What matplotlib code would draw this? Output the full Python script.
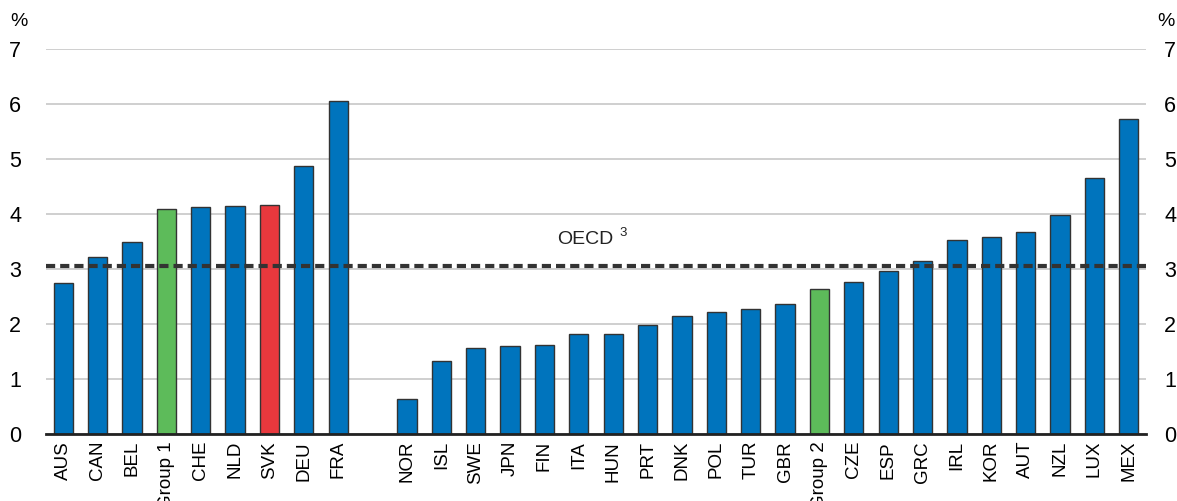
import numpy as np
import matplotlib
matplotlib.use("Agg")
import matplotlib.pyplot as plt

plt.rcParams['font.family'] = ['Liberation Sans', 'DejaVu Sans']

group1_labels = ["AUS", "CAN", "BEL", "Group 1", "CHE", "NLD", "SVK", "DEU", "FRA"]
group1_values = [2.75, 3.22, 3.50, 4.10, 4.12, 4.15, 4.17, 4.87, 6.05]
group2_labels = ["NOR", "ISL", "SWE", "JPN", "FIN", "ITA", "HUN", "PRT", "DNK", "POL",
                 "TUR", "GBR", "Group 2", "CZE", "ESP", "GRC", "IRL", "KOR", "AUT",
                 "NZL", "LUX", "MEX"]
group2_values = [0.63, 1.32, 1.57, 1.60, 1.62, 1.82, 1.82, 1.98, 2.15, 2.22,
                 2.27, 2.37, 2.63, 2.77, 2.97, 3.15, 3.52, 3.58, 3.68,
                 3.98, 4.65, 5.73]
oecd_avg = 3.05

BLUE = "#0074BD"
GREEN = "#5DBB5A"
RED = "#E8383D"

def bar_color(label):
    if label.startswith("Group"):
        return GREEN
    if label == "SVK":
        return RED
    return BLUE

labels = group1_labels + group2_labels
values = group1_values + group2_values
pos = list(range(len(group1_labels))) + [len(group1_labels) + 1 + i for i in range(len(group2_labels))]

fig = plt.figure(figsize=(11.77, 5.01), dpi=100)
ax = fig.add_axes([46 / 1177, 1 - 434 / 501, 1100 / 1177, 385 / 501])

ax.bar(pos, values, width=0.56, color=[bar_color(l) for l in labels],
       edgecolor="#333333", linewidth=1.0, zorder=3)
ax.axhline(oecd_avg, color="#333333", linewidth=3, linestyle=(0, (2.2, 1.2)), zorder=4)
ax.text(16.02, 3.53, "OECD", fontsize=14, color="#222222", ha="right", va="center")
ax.text(16.17, 3.66, "3", fontsize=9.5, color="#222222", ha="left", va="center")

ax.set_xlim(-0.5, pos[-1] + 0.5)
ax.set_ylim(0, 7)
ax.set_yticks(range(8))
ax.yaxis.grid(True, color="#cccccc", linewidth=1.3, zorder=0)
ax.set_xticks(pos)
ax.set_xticklabels(labels, rotation=90, fontsize=13.5)
ax.tick_params(axis="x", length=0, pad=5)
ax.tick_params(axis="y", length=0, labelsize=15.5, pad=18)
for s in ["top", "left", "right"]:
    ax.spines[s].set_visible(False)
ax.spines["bottom"].set_color("#222222")
ax.spines["bottom"].set_linewidth(2)
ax.spines["bottom"].set_zorder(5)

ax2 = ax.twinx()
ax2.set_ylim(ax.get_ylim())
ax2.set_yticks(range(8))
ax2.tick_params(axis="y", length=0, labelsize=15.5, pad=13)
for s in ["top", "left", "right", "bottom"]:
    ax2.spines[s].set_visible(False)

fig.text(10 / 1177, 1 - 21 / 501, "%", fontsize=14, ha="left", va="center")
fig.text(1157 / 1177, 1 - 21 / 501, "%", fontsize=14, ha="left", va="center")

fig.savefig("out.png", dpi=100)
